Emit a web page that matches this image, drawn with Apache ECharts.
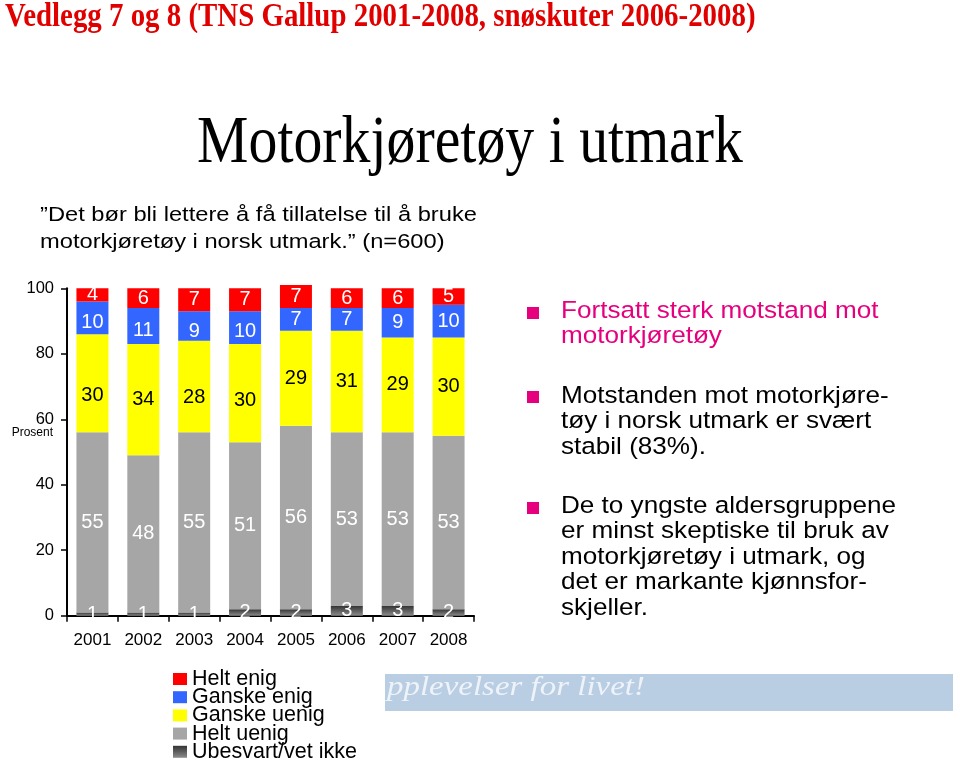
<!DOCTYPE html>
<html>
<head>
<meta charset="utf-8">
<script src="https://cdn.jsdelivr.net/npm/echarts@6/dist/echarts.min.js"></script>
<style>
html,body{margin:0;padding:0;background:#fff;}
#chart{width:960px;height:775px;}
</style>
</head>
<body>
<div id="chart"></div>
<script>
// ---- Data ----
const years = ['2001', '2002', '2003', '2004', '2005', '2006', '2007', '2008'];
const heltEnig = [4, 6, 7, 7, 7, 6, 6, 5];
const ganskeEnig = [10, 11, 9, 10, 7, 7, 9, 10];
const ganskeUenig = [30, 34, 28, 30, 29, 31, 29, 30];
const heltUenig = [55, 48, 55, 51, 56, 53, 53, 53];
const ubesvart = [1, 1, 1, 2, 2, 3, 3, 2];
const yTicks = [0, 20, 40, 60, 80, 100];
const seriesNames = ['Helt enig', 'Ganske enig', 'Ganske uenig', 'Helt uenig', 'Ubesvart/vet ikke'];

// ---- Texts ----
const headerText = 'Vedlegg 7 og 8 (TNS Gallup 2001-2008, snøskuter 2006-2008)';
const titleText = 'Motorkjøretøy i utmark';
const subtitleLines = ['\u201DDet bør bli lettere å få tillatelse til å bruke', 'motorkjøretøy i norsk utmark.\u201D (n=600)'];
const bulletBlocks = [
  ['Fortsatt sterk motstand mot', 'motorkjøretøy'],
  ['Motstanden mot motorkjøre-', 'tøy i norsk utmark er svært', 'stabil (83%).'],
  ['De to yngste aldersgruppene', 'er minst skeptiske til bruk av', 'motorkjøretøy i utmark, og', 'det er markante kjønnsfor-', 'skjeller.']
];
const bannerText = 'pplevelser for livet!';
const yAxisNameText = 'Prosent';

// ---- Styling (label nudges in px, as seen in the original slide) ----
const labelNudge = {
  'Ganske uenig': [12, 0, 11, 7, 0, 0, 0, 0],
  'Ganske enig': [5, 5, 6, 4, 0, 0, 0, 0]
};

const SANS = '"Liberation Sans", Arial, sans-serif';
const SERIF = '"Liberation Serif", "Times New Roman", serif';
const MAGENTA = '#E6007E';

const chart = echarts.init(document.getElementById('chart'), null, {renderer: 'canvas'});

const darkGrad = new echarts.graphic.LinearGradient(0, 0, 0, 1, [
  {offset: 0, color: '#333333'},
  {offset: 1, color: '#8c8c8c'}
]);

function barSeries(name, values, color, labelColor) {
  const nudge = labelNudge[name];
  const data = values.map(function (v, i) {
    if (nudge && nudge[i]) {
      return {value: v, label: {offset: [0, nudge[i]]}};
    }
    return v;
  });
  return {
    name: name,
    type: 'bar',
    stack: 'total',
    data: data,
    barWidth: 32,
    clip: false,
    itemStyle: {color: color},
    label: {
      show: true,
      position: 'inside',
      color: labelColor,
      fontFamily: SANS,
      fontSize: 20,
      textBorderWidth: 0
    },
    emphasis: {disabled: true}
  };
}

// graphic elements
const graphics = [];
graphics.push({
  type: 'text', x: 5, y: 17, scaleX: 0.875,
  style: {text: headerText, font: 'bold 33px ' + SERIF, fill: '#E00000', textAlign: 'left', textVerticalAlign: 'middle'}
});
graphics.push({
  type: 'text', x: 470, y: 144, scaleX: 0.85,
  style: {text: titleText, font: '68px ' + SERIF, fill: '#000', textAlign: 'center', textVerticalAlign: 'middle'}
});
subtitleLines.forEach(function (t, i) {
  graphics.push({
    type: 'text', x: 40, y: 215 + i * 27, scaleX: 1.155,
    style: {text: t, font: '20.5px ' + SANS, fill: '#000', textAlign: 'left', textVerticalAlign: 'middle'}
  });
});
const blockStarts = [311, 396, 506];
const bulletTops = [307, 391, 502];
bulletBlocks.forEach(function (lines, b) {
  graphics.push({
    type: 'rect', shape: {x: 527, y: bulletTops[b], width: 12, height: 12},
    style: {fill: MAGENTA}
  });
  lines.forEach(function (t, i) {
    graphics.push({
      type: 'text', x: 561, y: blockStarts[b] + i * 25.5, scaleX: 1.065,
      style: {text: t, font: '24.5px ' + SANS, fill: b === 0 ? MAGENTA : '#000', textAlign: 'left', textVerticalAlign: 'middle'}
    });
  });
});
graphics.push({
  type: 'text', x: 53, y: 433,
  style: {text: yAxisNameText, font: '12px ' + SANS, fill: '#000', textAlign: 'right', textVerticalAlign: 'middle'}
});
graphics.push({
  type: 'rect', shape: {x: 385, y: 674, width: 568, height: 37},
  style: {fill: '#B9CDE3'}, z: -1
});
graphics.push({
  type: 'text', x: 387, y: 688, scaleX: 1.22,
  style: {text: bannerText, font: 'italic 27px ' + SERIF, fill: '#EEF3F9', textAlign: 'left', textVerticalAlign: 'middle'}
});

const option = {
  backgroundColor: '#ffffff',
  animation: false,
  textStyle: {fontFamily: SANS},
  grid: {left: 67, top: 288.3, width: 407, height: 327.4, containLabel: false},
  legend: {
    orient: 'vertical',
    left: 173,
    top: 668,
    padding: 0,
    itemGap: -3.8,
    itemWidth: 14,
    itemHeight: 12,
    icon: 'rect',
    selectedMode: false,
    data: seriesNames,
    textStyle: {fontFamily: SANS, fontSize: 21.5, color: '#000'}
  },
  xAxis: {
    type: 'category',
    data: years,
    boundaryGap: true,
    axisLine: {show: true, lineStyle: {color: '#000', width: 2}},
    axisTick: {show: true, inside: false, length: 6, lineStyle: {color: '#000', width: 1.5}},
    axisLabel: {color: '#000', fontSize: 17, fontFamily: SANS, margin: 16},
    splitLine: {show: false}
  },
  yAxis: {
    type: 'value',
    min: yTicks[0],
    max: yTicks[yTicks.length - 1],
    interval: yTicks[1] - yTicks[0],
    axisLine: {show: true, lineStyle: {color: '#000', width: 2}},
    axisTick: {show: true, inside: false, length: 6, lineStyle: {color: '#000', width: 1.5}},
    axisLabel: {color: '#000', fontSize: 16.5, fontFamily: SANS, margin: 13},
    splitLine: {show: false}
  },
  graphic: graphics,
  series: [
    barSeries(seriesNames[4], ubesvart, darkGrad, '#ffffff'),
    barSeries(seriesNames[3], heltUenig, '#A6A6A6', '#ffffff'),
    barSeries(seriesNames[2], ganskeUenig, '#FFFF00', '#000000'),
    barSeries(seriesNames[1], ganskeEnig, '#3366FF', '#ffffff'),
    barSeries(seriesNames[0], heltEnig, '#FF0000', '#ffffff')
  ]
};
chart.setOption(option);
</script>
</body>
</html>
